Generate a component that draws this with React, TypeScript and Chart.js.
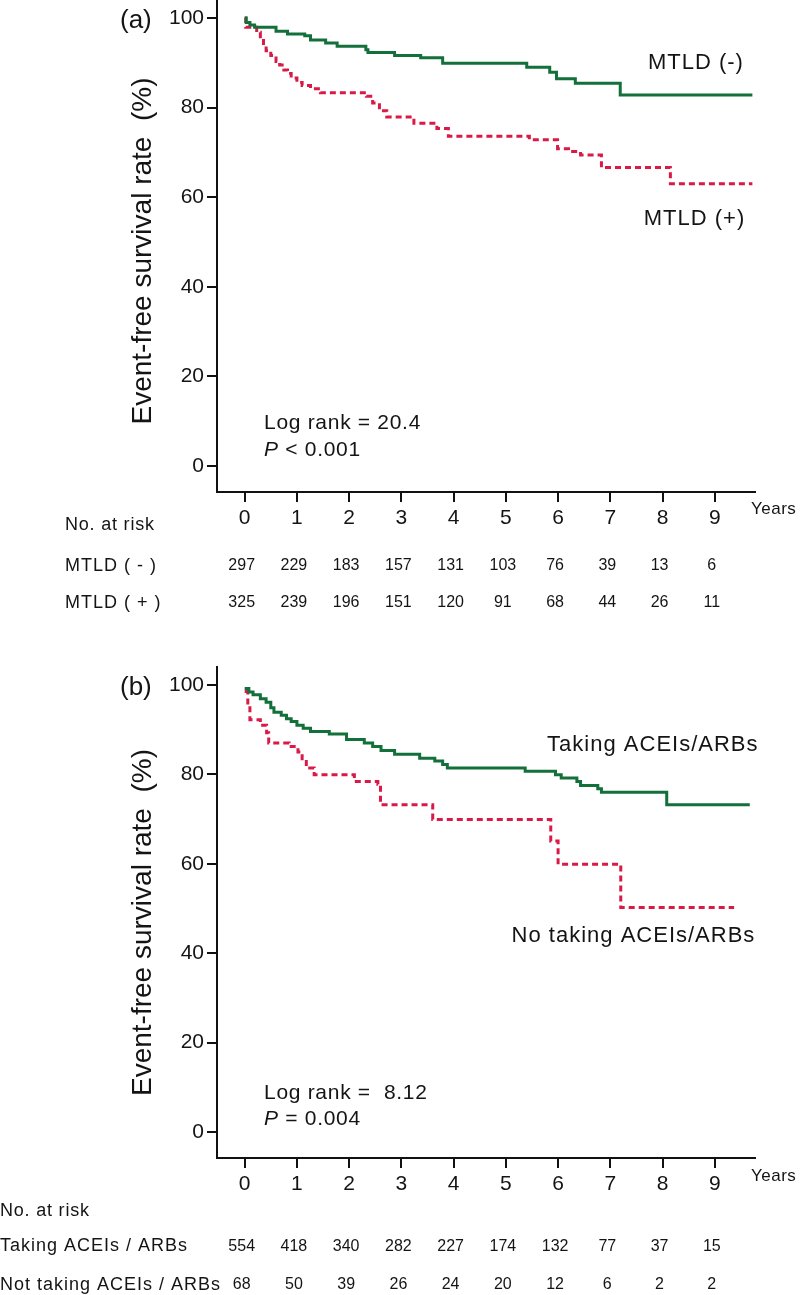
import React, { useEffect, useRef } from 'react';
import { Chart, registerables } from 'chart.js';

Chart.register(...registerables);

// ---------- data ----------
const YEAR_TICKS = [0, 1, 2, 3, 4, 5, 6, 7, 8, 9];
const SURV_TICKS = [0, 20, 40, 60, 80, 100];

// Panel (a): MTLD (-) solid green
const A_NEG_T = [0, 0.03, 0.1, 0.19, 0.6, 0.82, 1.15, 1.26, 1.55, 1.77, 2.32, 2.36, 2.87, 3.37, 3.79, 5.4, 5.84, 5.97, 6.33, 7.19, 9.72];
const A_NEG_S = [100, 99.0, 98.4, 97.9, 97.0, 96.4, 96.0, 95.1, 94.4, 93.7, 92.9, 92.3, 91.6, 91.1, 89.9, 89.0, 87.9, 86.4, 85.4, 82.8, 82.8];
// Panel (a): MTLD (+) dashed red
const A_POS_T = [0, 0.02, 0.23, 0.3, 0.36, 0.41, 0.5, 0.6, 0.67, 0.75, 0.82, 0.89, 1.0, 1.1, 1.26, 1.45, 2.33, 2.45, 2.58, 2.72, 3.24, 3.68, 3.9, 5.45, 5.99, 6.2, 6.43, 6.83, 8.15, 9.72];
const A_POS_S = [100, 97.9, 96.8, 95.3, 93.8, 92.7, 91.6, 90.3, 89.5, 88.4, 87.6, 86.6, 85.6, 84.9, 84.2, 83.3, 82.5, 81.0, 79.3, 77.9, 76.5, 75.3, 73.6, 72.8, 70.8, 70.2, 69.4, 66.6, 63.0, 63.0];
const A_RISK_NEG = [297, 229, 183, 157, 131, 103, 76, 39, 13, 6];
const A_RISK_POS = [325, 239, 196, 151, 120, 91, 68, 44, 26, 11];

// Panel (b): Taking ACEIs/ARBs solid green
const B_TAKE_T = [0, 0.08, 0.16, 0.3, 0.41, 0.5, 0.56, 0.7, 0.8, 0.89, 1.0, 1.12, 1.26, 1.62, 1.95, 2.29, 2.45, 2.61, 2.87, 3.35, 3.64, 3.79, 3.88, 5.37, 5.95, 6.06, 6.36, 6.43, 6.76, 6.83, 8.08, 9.67];
const B_TAKE_S = [99.2, 98.4, 97.8, 96.9, 96.1, 94.9, 93.9, 93.2, 92.4, 91.8, 91.0, 90.3, 89.6, 89.0, 87.8, 87.0, 86.2, 85.3, 84.5, 83.6, 83.0, 82.2, 81.4, 80.7, 79.9, 79.2, 78.4, 77.5, 76.8, 76.0, 73.2, 73.2];
// Panel (b): No taking ACEIs/ARBs dashed red
const B_NOT_T = [0, 0.06, 0.1, 0.3, 0.42, 0.46, 0.85, 1.02, 1.1, 1.18, 1.33, 2.1, 2.55, 2.6, 3.6, 5.86, 6.0, 7.2, 9.37];
const B_NOT_S = [98.5, 95.5, 92.2, 91.0, 89.3, 87.0, 86.2, 85.0, 83.5, 81.4, 79.9, 78.4, 77.8, 73.2, 69.9, 65.1, 59.9, 50.2, 50.2];
const B_RISK_TAKE = [554, 418, 340, 282, 227, 174, 132, 77, 37, 15];
const B_RISK_NOT = [68, 50, 39, 26, 24, 20, 12, 6, 2, 2];

// ---------- style ----------
const FONT = '"Liberation Sans", Arial, Helvetica, sans-serif';
const GREEN = '#13703a';
const RED = '#d91a47';
const TEXT = '#141414';
const Y_TITLE = 'Event-free survival rate  (%)';

type Panel = {
  top: number;
  height: number;
  padTop: number;
  xAxisH: number;
  panelLabel: string;
  panelLabelY: number;
  titleY: number;
  yearsY: number;
  riskLabelX: number;
  riskHeadY: number;
  rows: { label: string; values: number[]; y: number }[];
  solid: { t: number[]; s: number[] };
  dashed: { t: number[]; s: number[] };
  notes: { text: string; x: number; y: number }[];
  stat1: { text: string; x: number; y: number };
  stat2: { p: string; rest: string; x: number; y: number };
};

function setFont(ctx: CanvasRenderingContext2D, size: number, spacing = 0, italic = false) {
  ctx.font = `${italic ? 'italic ' : ''}${size}px ${FONT}`;
  (ctx as any).letterSpacing = spacing + 'px';
}

function makeConfig(p: Panel): any {
  const overlay = {
    id: 'overlay',
    afterDraw(chart: any) {
      const ctx: CanvasRenderingContext2D = chart.ctx;
      const xs = chart.scales.x;
      const ys = chart.scales.y;
      ctx.save();
      ctx.fillStyle = TEXT;

      // data-anchored text
      ctx.textAlign = 'left';
      ctx.textBaseline = 'alphabetic';
      setFont(ctx, 22, 1);
      p.notes.forEach((n) => {
        ctx.fillText(n.text, xs.getPixelForValue(n.x), ys.getPixelForValue(n.y));
      });
      setFont(ctx, 21, 0.7);
      ctx.fillText(p.stat1.text, xs.getPixelForValue(p.stat1.x), ys.getPixelForValue(p.stat1.y));
      const sx = xs.getPixelForValue(p.stat2.x);
      const sy = ys.getPixelForValue(p.stat2.y);
      setFont(ctx, 21, 0.7, true);
      ctx.fillText(p.stat2.p, sx, sy);
      const w = ctx.measureText(p.stat2.p).width;
      setFont(ctx, 21, 0.7);
      ctx.fillText(p.stat2.rest, sx + w, sy);

      // page-coordinate text
      ctx.translate(0, -p.top);

      setFont(ctx, 26);
      ctx.textAlign = 'left';
      ctx.textBaseline = 'middle';
      ctx.fillText(p.panelLabel, 120, p.panelLabelY);

      ctx.save();
      ctx.translate(143, p.titleY);
      ctx.rotate(-Math.PI / 2);
      setFont(ctx, 28);
      ctx.textAlign = 'center';
      ctx.textBaseline = 'middle';
      ctx.fillText(Y_TITLE, 0, 0);
      ctx.restore();

      setFont(ctx, 17, 0.5);
      ctx.textAlign = 'left';
      ctx.textBaseline = 'middle';
      ctx.fillText('Years', 751, p.yearsY);

      setFont(ctx, 18, 0.8);
      ctx.fillText('No. at risk', p.riskLabelX, p.riskHeadY);
      p.rows.forEach((row) => {
        setFont(ctx, 18, 1);
        ctx.textAlign = 'left';
        ctx.fillText(row.label, p.riskLabelX, row.y);
        setFont(ctx, 16);
        ctx.textAlign = 'center';
        row.values.forEach((v, i) => {
          ctx.fillText(String(v), xs.getPixelForValue(YEAR_TICKS[i]) - 3, row.y);
        });
      });

      (ctx as any).letterSpacing = '0px';
      ctx.restore();
    },
  };

  const toPts = (t: number[], s: number[]) => t.map((x, i) => ({ x, y: s[i] }));

  return {
    type: 'line',
    data: {
      datasets: [
        {
          data: toPts(p.solid.t, p.solid.s),
          borderColor: GREEN,
          borderWidth: 3,
          stepped: true,
          pointRadius: 0,
          fill: false,
        },
        {
          data: toPts(p.dashed.t, p.dashed.s),
          borderColor: RED,
          borderWidth: 3,
          borderDash: [6, 4],
          stepped: true,
          pointRadius: 0,
          fill: false,
        },
      ],
    },
    options: {
      animation: false,
      responsive: false,
      devicePixelRatio: 1,
      layout: { padding: { left: 0, right: 45, top: p.padTop, bottom: 0 } },
      plugins: { legend: { display: false }, tooltip: { enabled: false } },
      scales: {
        x: {
          type: 'linear',
          min: -0.53,
          max: 9.77,
          afterBuildTicks: (s: any) => {
            s.ticks = YEAR_TICKS.map((v) => ({ value: v }));
          },
          afterFit: (s: any) => {
            s.height = p.xAxisH;
          },
          grid: { drawOnChartArea: false, drawTicks: true, tickLength: 10, color: '#111', lineWidth: 2 },
          border: { display: true, color: '#111', width: 2 },
          ticks: { font: { family: FONT, size: 21 }, color: TEXT, padding: 4, maxRotation: 0, autoSkip: false },
        },
        y: {
          type: 'linear',
          min: -5.8,
          max: 104,
          afterBuildTicks: (s: any) => {
            s.ticks = SURV_TICKS.map((v) => ({ value: v }));
          },
          afterFit: (s: any) => {
            s.width = 217;
          },
          grid: { drawOnChartArea: false, drawTicks: true, tickLength: 10, color: '#111', lineWidth: 2 },
          border: { display: true, color: '#111', width: 2 },
          ticks: { font: { family: FONT, size: 21 }, color: TEXT, padding: 3, autoSkip: false },
        },
      },
    },
    plugins: [overlay],
  };
}

// positions below (other than data-anchored notes) are page coordinates
const PANEL_A: Panel = {
  top: -20,
  height: 660,
  padTop: 20,
  xAxisH: 148,
  panelLabel: '(a)',
  panelLabelY: 21,
  titleY: 251,
  yearsY: 509,
  riskLabelX: 65,
  riskHeadY: 525,
  rows: [
    { label: 'MTLD ( - )', values: A_RISK_NEG, y: 566 },
    { label: 'MTLD ( + )', values: A_RISK_POS, y: 603 },
  ],
  solid: { t: A_NEG_T, s: A_NEG_S },
  dashed: { t: A_POS_T, s: A_POS_S },
  notes: [
    { text: 'MTLD (-)', x: 7.72, y: 88.7 },
    { text: 'MTLD (+)', x: 7.64, y: 53.7 },
  ],
  stat1: { text: 'Log rank = 20.4', x: 0.37, y: 8.2 },
  stat2: { p: 'P', rest: ' < 0.001', x: 0.37, y: 2.2 },
};

const PANEL_B: Panel = {
  top: 640,
  height: 655,
  padTop: 27,
  xAxisH: 137,
  panelLabel: '(b)',
  panelLabelY: 688,
  titleY: 922.5,
  yearsY: 1176.5,
  riskLabelX: 0,
  riskHeadY: 1211.5,
  rows: [
    { label: 'Taking ACEIs / ARBs', values: B_RISK_TAKE, y: 1246.5 },
    { label: 'Not taking ACEIs / ARBs', values: B_RISK_NOT, y: 1285 },
  ],
  solid: { t: B_TAKE_T, s: B_TAKE_S },
  dashed: { t: B_NOT_T, s: B_NOT_S },
  notes: [
    { text: 'Taking ACEIs/ARBs', x: 5.79, y: 85.3 },
    { text: 'No taking ACEIs/ARBs', x: 5.11, y: 42.5 },
  ],
  stat1: { text: 'Log rank =  8.12', x: 0.37, y: 7.3 },
  stat2: { p: 'P', rest: ' = 0.004', x: 0.37, y: 1.5 },
};

function PanelChart({ panel }: { panel: Panel }) {
  const ref = useRef<HTMLCanvasElement | null>(null);
  useEffect(() => {
    if (!ref.current) return;
    const chart = new Chart(ref.current, makeConfig(panel));
    return () => chart.destroy();
  }, [panel]);
  return (
    <div style={{ position: 'absolute', left: 0, top: panel.top, width: 800, height: panel.height }}>
      <canvas ref={ref} width={800} height={panel.height} style={{ width: 800, height: panel.height, display: 'block' }} />
    </div>
  );
}

export default function App() {
  return (
    <div style={{ position: 'absolute', left: 0, top: 0, width: 800, height: 1295, background: '#fff', overflow: 'hidden' }}>
      <PanelChart panel={PANEL_A} />
      <PanelChart panel={PANEL_B} />
    </div>
  );
}
